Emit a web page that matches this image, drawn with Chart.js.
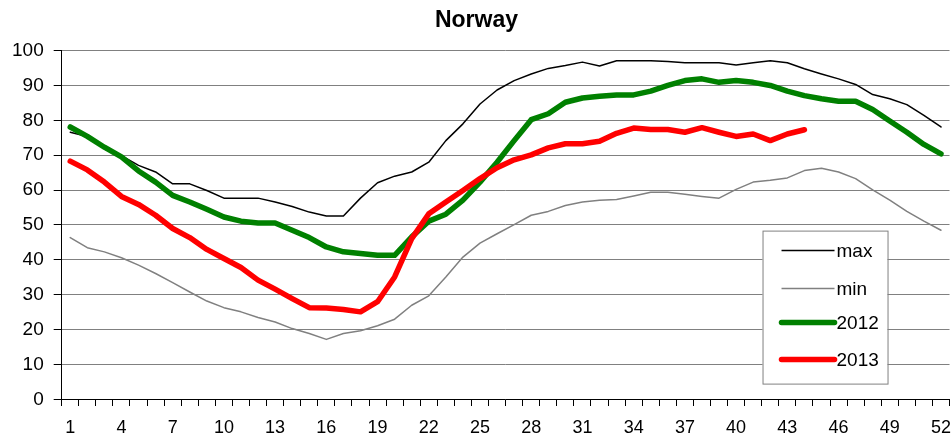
<!DOCTYPE html>
<html>
<head>
<meta charset="utf-8">
<title>Norway</title>
<script src="https://cdn.jsdelivr.net/npm/chart.js@4"></script>
<style>
  html, body { margin: 0; padding: 0; background: #fff; }
  #wrap { width: 951px; height: 445px; }
</style>
</head>
<body>
<div id="wrap"><canvas id="chart"></canvas></div>
<script>
// week numbers on the x axis
const weeks = [
  '1','2','3','4','5','6','7','8','9','10','11','12','13',
  '14','15','16','17','18','19','20','21','22','23','24','25','26',
  '27','28','29','30','31','32','33','34','35','36','37','38','39',
  '40','41','42','43','44','45','46','47','48','49','50','51','52'
];

// reservoir filling, percent
const maxValues = [
  76.6, 75.4, 71.8, 69.9, 67.1, 65.2, 61.8, 61.8, 59.9, 57.7, 57.7, 57.7, 56.6,
  55.3, 53.7, 52.6, 52.6, 57.7, 62.1, 64.0, 65.2, 68.0, 74.2, 79.0, 84.7, 88.7,
  91.4, 93.3, 94.9, 95.7, 96.7, 95.6, 97.1, 97.1, 97.1, 96.9, 96.5, 96.5, 96.5,
  95.9, 96.5, 97.1, 96.5, 94.8, 93.3, 91.9, 90.3, 87.4, 86.2, 84.5, 81.4, 78.1
];
const minValues = [
  46.4, 43.5, 42.3, 40.6, 38.5, 36.1, 33.5, 30.8, 28.2, 26.3, 25.1, 23.5, 22.2,
  20.3, 18.9, 17.2, 18.9, 19.7, 21.1, 23.0, 27.0, 29.7, 35.1, 40.8, 44.8, 47.5,
  50.1, 52.8, 53.9, 55.6, 56.6, 57.1, 57.3, 58.3, 59.4, 59.4, 58.8, 58.2, 57.7,
  60.2, 62.3, 62.8, 63.5, 65.6, 66.3, 65.2, 63.3, 60.1, 57.1, 53.9, 51.1, 48.5
];
const values2012 = [
  78.1, 75.4, 72.3, 69.5, 65.5, 62.3, 58.5, 56.6, 54.5, 52.3, 51.1, 50.6, 50.6,
  48.5, 46.4, 43.7, 42.3, 41.8, 41.3, 41.3, 46.6, 51.1, 53.1, 57.1, 62.3, 68.0,
  74.2, 80.2, 81.9, 85.2, 86.4, 86.9, 87.3, 87.3, 88.4, 90.0, 91.4, 91.9, 90.9,
  91.4, 90.9, 90.0, 88.4, 87.1, 86.2, 85.5, 85.5, 83.1, 79.8, 76.6, 73.1, 70.4
];
const values2013 = [
  68.3, 65.8, 62.3, 58.2, 55.9, 52.8, 49.0, 46.4, 43.0, 40.4, 37.8, 34.2, 31.6,
  28.9, 26.3, 26.2, 25.8, 25.1, 28.0, 35.1, 46.1, 53.2, 56.6, 59.9, 63.3, 66.4,
  68.7, 70.1, 72.1, 73.3, 73.3, 74.0, 76.3, 77.8, 77.4, 77.4, 76.6, 77.9, 76.6,
  75.4, 76.1, 74.2, 76.1, 77.3
];

const FONT = "'Liberation Sans', Arial, sans-serif";
Chart.defaults.font.family = FONT;
Chart.defaults.color = '#000';

// legend box drawn inside the plot, lower right
const boxLegend = {
  id: 'boxLegend',
  afterDraw(chart) {
    const { ctx, chartArea } = chart;
    const w = 125, h = 153;
    const x = chartArea.right - 187;
    const y = chartArea.top + 180;
    ctx.save();
    ctx.fillStyle = '#fff';
    ctx.fillRect(x, y, w, h);
    ctx.strokeStyle = '#808080';
    ctx.lineWidth = 1;
    ctx.strokeRect(x + 0.5, y + 0.5, w, h);
    ctx.font = '19px ' + FONT;
    ctx.textBaseline = 'middle';
    ctx.fillStyle = '#000';
    const rows = [20, 58, 92, 129];
    chart.data.datasets.forEach((ds, i) => {
      const ry = y + rows[i];
      ctx.beginPath();
      ctx.strokeStyle = ds.borderColor;
      ctx.lineWidth = ds.borderWidth;
      ctx.lineCap = ds.borderWidth > 3 ? 'round' : 'butt';
      ctx.moveTo(x + 19, ry);
      ctx.lineTo(x + 72, ry);
      ctx.stroke();
      ctx.fillText(ds.label, x + 74, ry + 1);
    });
    ctx.restore();
  }
};

new Chart(document.getElementById('chart'), {
  type: 'line',
  data: {
    labels: weeks,
    datasets: [
      { label: 'max', data: maxValues, borderColor: '#000000', borderWidth: 1.5, order: 4 },
      { label: 'min', data: minValues, borderColor: '#808080', borderWidth: 1.5, order: 3 },
      { label: '2012', data: values2012, borderColor: '#008000', borderWidth: 5.5, order: 2 },
      { label: '2013', data: values2013, borderColor: '#ff0000', borderWidth: 5.5, order: 1 }
    ]
  },
  options: {
    responsive: true,
    maintainAspectRatio: false,
    animation: false,
    elements: {
      point: { radius: 0, hoverRadius: 0 },
      line: { tension: 0, borderJoinStyle: 'round', borderCapStyle: 'round' }
    },
    layout: { padding: { left: 2, right: 0, top: 0, bottom: 6 } },
    plugins: {
      legend: { display: false },
      tooltip: { enabled: false },
      title: {
        display: true,
        text: 'Norway',
        color: '#000',
        font: { size: 23, weight: 'bold' },
        padding: { top: 7, bottom: 16 }
      }
    },
    scales: {
      x: {
        offset: true,
        grid: {
          offset: true,
          drawOnChartArea: false,
          drawTicks: true,
          // long tick length keeps the labels low; dash shows only a short mark
          tickLength: 18,
          tickBorderDash: [6, 40],
          tickColor: '#000'
        },
        border: { display: true, color: '#000' },
        ticks: {
          autoSkip: false,
          maxRotation: 0,
          padding: 0,
          font: { size: 18 },
          callback: (v, i) => (i % 3 === 0 ? weeks[i] : '')
        }
      },
      y: {
        min: 0,
        max: 100,
        grid: { color: '#808080', tickColor: '#000', tickLength: 8 },
        border: { display: true, color: '#000' },
        ticks: { stepSize: 10, padding: 10, font: { size: 19 } }
      }
    }
  },
  plugins: [boxLegend]
});
</script>
</body>
</html>
